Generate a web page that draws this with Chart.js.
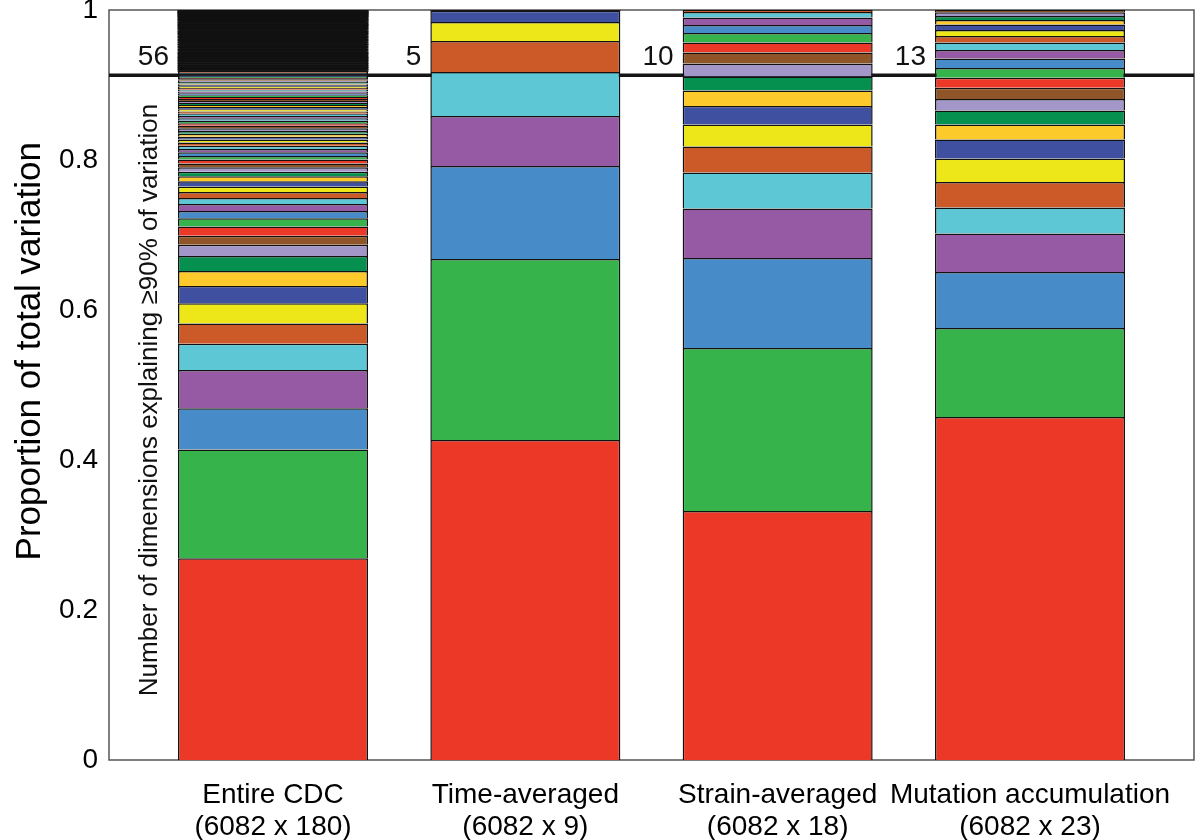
<!DOCTYPE html>
<html>
<head>
<meta charset="utf-8">
<script src="https://cdn.jsdelivr.net/npm/chart.js@4.4.1/dist/chart.umd.min.js"></script>
<style>
  html, body { margin: 0; padding: 0; background: #fff; }
  #wrap { width: 1200px; height: 840px; }
</style>
</head>
<body>
<div id="wrap"><canvas id="c" width="1200" height="840"></canvas></div>
<script>
// ---------- data ----------
const categories = ['Entire CDC', 'Time-averaged', 'Strain-averaged', 'Mutation accumulation'];
const matrixSizes = ['(6082 x 180)', '(6082 x 9)', '(6082 x 18)', '(6082 x 23)'];
const dimsFor90 = [56, 5, 10, 13];
const thresholdLevel = 0.913;
const yTickValues = [0, 0.2, 0.4, 0.6, 0.8, 1];
const yTitle = 'Proportion of total variation';
const innerLabel = 'Number of dimensions explaining \u226590% of variation';

const palette = ['#EC3826', '#36B34A', '#488BC9', '#9659A3', '#5EC7D5', '#CB5A28',
                 '#EDE71A', '#3F50A0', '#FDCA2B', '#05904F', '#A396C9', '#8F5427'];

// proportion of variation explained by each component (bottom to top)
const entireCDC = [
  0.269, 0.145, 0.055, 0.051, 0.035, 0.027, 0.027, 0.023, 0.020, 0.020,
  0.015, 0.012, 0.0125, 0.011, 0.0095, 0.0095, 0.008, 0.008, 0.0072, 0.007,
  0.0066, 0.0062, 0.0058, 0.0052,
  0.0051, 0.0049, 0.0047, 0.0045, 0.0043, 0.0042, 0.0040, 0.0039, 0.0038, 0.0037,
  0.0036, 0.0035, 0.0034, 0.0033, 0.0032, 0.0031, 0.0031, 0.0030, 0.0029, 0.0029,
  0.0028, 0.0027, 0.0027, 0.0026, 0.0026, 0.0025, 0.0025, 0.0024, 0.0024, 0.0023,
  0.0021, 0.0020,
  0.0019, 0.0019, 0.0018, 0.0018, 0.0017, 0.0017, 0.0017, 0.0016, 0.0016, 0.0016,
  0.0015, 0.0015, 0.0015, 0.0014, 0.0014, 0.0014, 0.0014, 0.0013, 0.0013, 0.0013,
  0.0013, 0.0012, 0.0012, 0.0012, 0.0012,
  0.0011, 0.0011, 0.0011, 0.0011, 0.0011, 0.0011, 0.0011,
  0.0010, 0.0010, 0.0010, 0.0010, 0.0010, 0.0010, 0.0010,
  0.0009, 0.0009, 0.0009, 0.0009, 0.0009, 0.0009,
  0.0008, 0.0008, 0.0008, 0.0008, 0.0008, 0.0008, 0.0008, 0.0008, 0.0008, 0.0008,
  0.0008, 0.0008, 0.0008,
  0.0007, 0.0007, 0.0007, 0.0007, 0.0007, 0.0007, 0.0007, 0.0007, 0.0007, 0.0007,
  0.0007, 0.0007,
  0.0006, 0.0006, 0.0006, 0.0006, 0.0006, 0.0006, 0.0006, 0.0006, 0.0006, 0.0006,
  0.0006, 0.0006, 0.0006,
  0.0005, 0.0005, 0.0005, 0.0005, 0.0005, 0.0005, 0.0005, 0.0005, 0.0005, 0.0005,
  0.0005, 0.0005,
  0.0004, 0.0004, 0.0004, 0.0004, 0.0004, 0.0004, 0.0004, 0.0004, 0.0004, 0.0004,
  0.0003, 0.0003, 0.0003, 0.0003, 0.0003, 0.0003, 0.0003, 0.0003, 0.0003, 0.0003,
  0.0002, 0.0002, 0.0002, 0.0002, 0.0002, 0.0002, 0.0002, 0.0002, 0.0002
];
const timeAveraged = [0.4267, 0.2413, 0.124, 0.0667, 0.0587, 0.0413, 0.0253, 0.015, 0.001];
const strainAveraged = [0.332, 0.2173, 0.12, 0.066, 0.048, 0.0347, 0.0293, 0.0247, 0.0207,
  0.0187, 0.0173, 0.0147, 0.0133, 0.0127, 0.0107, 0.0100, 0.0073, 0.0026];
const mutationAccumulation = [0.4573, 0.1187, 0.0747, 0.0513, 0.0347, 0.034, 0.0313, 0.0253,
  0.020, 0.0187, 0.0153, 0.015, 0.0133, 0.013, 0.0127, 0.0113, 0.010, 0.0087, 0.008,
  0.0075, 0.006, 0.0053, 0.005, 0.0029];

const seriesByCategory = [entireCDC, timeAveraged, strainAveraged, mutationAccumulation];

// ---------- build datasets (one per component level) ----------
const BAR_W = 190;
const EDGE = '#111111';
const FONT = '"Liberation Sans", Arial, Helvetica, sans-serif';
const maxLen = Math.max(...seriesByCategory.map(s => s.length));

function segHeight(ctx) {
  const yS = ctx.chart.scales.y;
  if (!yS || !ctx.parsed) return 99;
  return Math.abs(yS.getPixelForValue(0) - yS.getPixelForValue(ctx.parsed.y));
}

const datasets = [];
for (let i = 0; i < maxLen; i++) {
  const data = [];
  seriesByCategory.forEach((s, j) => {
    if (i < s.length) data.push({ x: j + 1, y: s[i] });
  });
  const base = palette[i % palette.length];
  datasets.push({
    label: 'PC' + (i + 1),
    data,
    stack: 'pcs',
    // segments thinner than an edge line are covered by the edge colour
    backgroundColor: (ctx) => (segHeight(ctx) < 1.15 ? EDGE : base),
    inflateAmount: (ctx) => (segHeight(ctx) < 1.15 ? 0.6 : 0),
    borderColor: EDGE,
    borderWidth: { top: 1.5, left: 1.5, right: 1.5, bottom: 0 },
    borderSkipped: false,
    barThickness: BAR_W
  });
}

const overlay = {
  id: 'overlay',
  beforeDatasetsDraw(chart) {
    const { ctx, chartArea: a, scales: { x, y } } = chart;
    ctx.save();
    // frame
    ctx.strokeStyle = '#555';
    ctx.lineWidth = 1.5;
    ctx.strokeRect(a.left, a.top, a.right - a.left, a.bottom - a.top);
    // threshold line
    const ty = y.getPixelForValue(thresholdLevel);
    ctx.strokeStyle = '#151515';
    ctx.lineWidth = 3.5;
    ctx.beginPath();
    ctx.moveTo(a.left, ty);
    ctx.lineTo(a.right, ty);
    ctx.stroke();
    // counts
    ctx.fillStyle = '#111';
    ctx.font = '28px ' + FONT;
    ctx.textAlign = 'right';
    ctx.textBaseline = 'alphabetic';
    dimsFor90.forEach((n, i) => {
      const px = x.getPixelForValue(i + 1) - BAR_W / 2 - 9;
      ctx.fillText(String(n), px, ty - 10);
    });
    // rotated inner label
    ctx.save();
    ctx.translate(a.left + 41, y.getPixelForValue(0.48));
    ctx.rotate(-Math.PI / 2);
    ctx.textAlign = 'center';
    ctx.textBaseline = 'middle';
    ctx.font = '26px ' + FONT;
    ctx.fillText(innerLabel, 0, 0);
    ctx.restore();
    // y axis title
    ctx.save();
    ctx.translate(30, y.getPixelForValue(0.545));
    ctx.rotate(-Math.PI / 2);
    ctx.textAlign = 'center';
    ctx.textBaseline = 'middle';
    ctx.fillStyle = '#000';
    ctx.font = '35px ' + FONT;
    ctx.fillText(yTitle, 0, 0);
    ctx.restore();
    ctx.restore();
  }
};

new Chart(document.getElementById('c'), {
  type: 'bar',
  data: { datasets },
  plugins: [overlay],
  options: {
    responsive: false,
    animation: false,
    devicePixelRatio: 1,
    layout: { padding: { top: 10, right: 6, left: 0, bottom: 0 } },
    plugins: { legend: { display: false }, tooltip: { enabled: false } },
    scales: {
      x: {
        type: 'linear',
        offset: false,
        min: 0.35,
        max: 4.65,
        grid: { display: false, drawTicks: false, offset: false },
        border: { display: false },
        afterBuildTicks(scale) {
          scale.ticks = categories.map((c, i) => ({ value: i + 1 }));
        },
        afterFit(scale) {
          scale.height = 80;
          scale.paddingLeft = 0;
          scale.paddingRight = 0;
        },
        ticks: {
          autoSkip: false,
          maxRotation: 0,
          minRotation: 0,
          padding: 19,
          color: '#000',
          font: { family: FONT, size: 28, lineHeight: 1.15 },
          callback: (v) => [categories[v - 1], matrixSizes[v - 1]]
        }
      },
      y: {
        stacked: true,
        min: 0,
        max: 1,
        grid: { display: false, drawTicks: false },
        border: { display: false },
        afterBuildTicks(scale) {
          scale.ticks = yTickValues.map(v => ({ value: v }));
        },
        afterFit(scale) {
          scale.width = 109;
          scale.paddingTop = 0;
          scale.paddingBottom = 0;
        },
        ticks: {
          padding: 11,
          color: '#000',
          font: { family: FONT, size: 28 },
          callback: (v) => String(+v.toFixed(1))
        },
        title: { display: false }
      }
    }
  }
});
</script>
</body>
</html>
